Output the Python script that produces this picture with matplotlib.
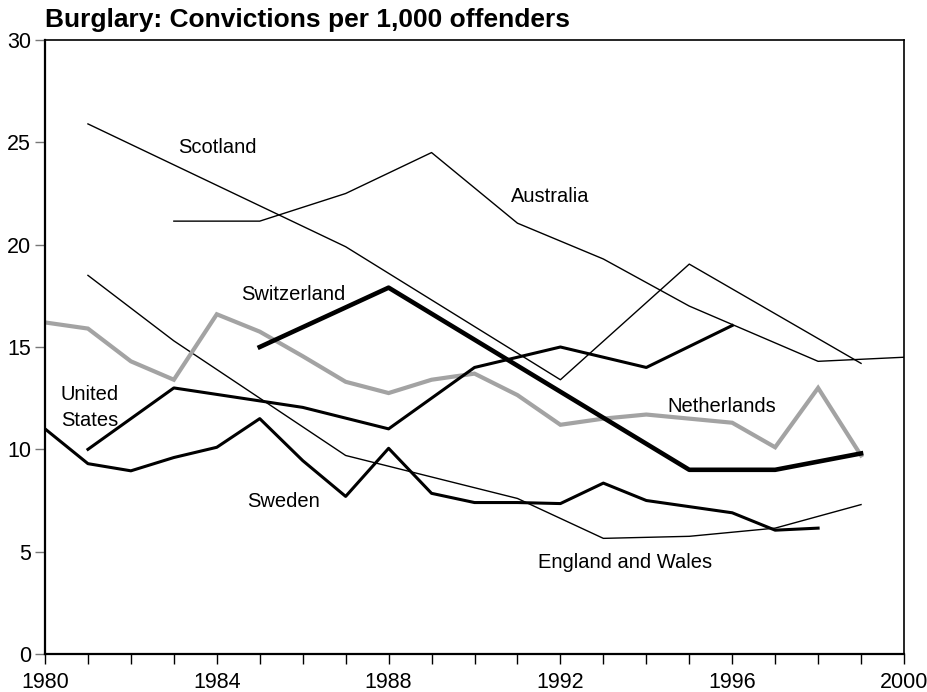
"""
Burglary convictions per 1,000 offenders, line chart with inline labels
"""
import matplotlib
matplotlib.use("Agg")
import matplotlib.pyplot as plt

plt.rcParams["font.family"] = ["Liberation Sans", "DejaVu Sans"]

GREY = "#a3a3a3"

# Series (year, value) -- only visible vertices
scotland_years = [1981, 1987, 1992, 1995, 1999]
scotland = [25.9, 19.9, 13.4, 19.05, 14.2]

australia_years = [1983, 1985, 1987, 1989, 1991, 1993, 1995, 1998, 2000]
australia = [21.15, 21.15, 22.5, 24.5, 21.05, 19.3, 17.0, 14.3, 14.5]

england_years = [1981, 1983, 1987, 1991, 1993, 1995, 1997, 1999]
england = [18.5, 15.3, 9.7, 7.6, 5.65, 5.75, 6.15, 7.3]

switzerland_years = [1985, 1988, 1995, 1997, 1999]
switzerland = [15.0, 17.9, 9.0, 9.0, 9.8]

netherlands_years = list(range(1980, 2000))
netherlands = [16.2, 15.9, 14.3, 13.4, 16.6, 15.75, 14.55, 13.3, 12.75, 13.4,
               13.7, 12.65, 11.2, 11.5, 11.7, 11.5, 11.3, 10.1, 13.0, 9.7]

us_years = [1981, 1983, 1986, 1988, 1990, 1992, 1994, 1996]
us = [10.0, 13.0, 12.05, 11.0, 14.0, 15.0, 14.0, 16.05]

sweden_years = list(range(1980, 1999))
sweden = [11.0, 9.3, 8.95, 9.6, 10.1, 11.5, 9.45, 7.7, 10.05, 7.85,
          7.4, 7.4, 7.35, 8.35, 7.5, 7.2, 6.9, 6.05, 6.15]

# label text, x, y (baseline)
labels = [
    ("Scotland", 1983.1, 24.47),
    ("Australia", 1990.85, 22.08),
    ("Switzerland", 1984.56, 17.29),
    ("United", 1980.37, 12.41),
    ("States", 1980.37, 11.14),
    ("Netherlands", 1994.48, 11.82),
    ("Sweden", 1984.7, 7.18),
    ("England and Wales", 1991.48, 4.2),
]

x_ticks = list(range(1980, 2001))
x_labels = ["1980", "1984", "1988", "1992", "1996", "2000"]
y_ticks = [0, 5, 10, 15, 20, 25, 30]

fig = plt.figure(figsize=(9.27, 6.92), dpi=100)
ax = fig.add_axes([45 / 927, 1 - 654 / 692, 859 / 927, 614 / 692])

ax.plot(scotland_years, scotland, color="black", lw=1.0)
ax.plot(australia_years, australia, color="black", lw=1.0)
ax.plot(england_years, england, color="black", lw=1.0)
ax.plot(netherlands_years, netherlands, color=GREY, lw=3.0,
        solid_joinstyle="miter")
ax.plot(us_years, us, color="black", lw=2.2)
ax.plot(sweden_years, sweden, color="black", lw=2.2)
ax.plot(switzerland_years, switzerland, color="black", lw=3.3)

for text, x, y in labels:
    ax.text(x, y, text, fontsize=14.5, ha="left", va="baseline")

ax.set_xlim(1980, 2000)
ax.set_ylim(0, 30)
ax.set_xticks(x_ticks)
ax.set_xticklabels([str(t) if str(t) in x_labels else "" for t in x_ticks])
ax.set_yticks(y_ticks)
ax.tick_params(axis="both", direction="out", length=7, width=1,
               labelsize=15.5, colors="black")
ax.tick_params(axis="y", color="#777777", pad=3)
ax.tick_params(axis="x", pad=6)
for side in ["left", "bottom"]:
    ax.spines[side].set_linewidth(1.6)
for side in ["top", "right"]:
    ax.spines[side].set_linewidth(1.2)

fig.text(45 / 927, 1 - 27 / 692, "Burglary: Convictions per 1,000 offenders",
         fontsize=19, weight="bold", ha="left", va="baseline")

plt.savefig("out.png", dpi=100)
